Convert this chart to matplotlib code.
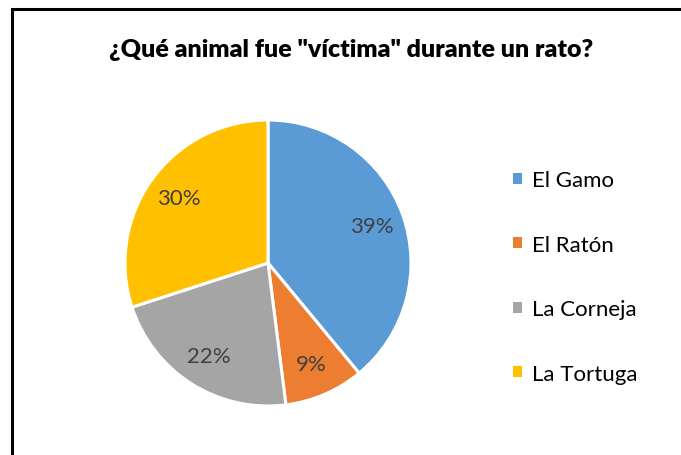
import matplotlib
matplotlib.use("Agg")
import matplotlib.pyplot as plt
from matplotlib.patches import Rectangle, Patch

# --- Data ---
animals = ["El Gamo", "El Ratón", "La Corneja", "La Tortuga"]
shares = [39, 9, 22, 30]
colors = ["#5B9BD5", "#ED7D31", "#A5A5A5", "#FFC000"]
title = '¿Qué animal fue "víctima" durante un rato?'

W, H = 681, 456
DPI = 100
plt.rcParams["font.family"] = ["Lato", "DejaVu Sans"]

fig = plt.figure(figsize=(W / DPI, H / DPI), dpi=DPI)

# frame of the embedded chart (runs off the right and bottom edges)
fig.patches.append(Rectangle((11.5 / W, -0.1), 1.2, 1.1 - 9.5 / H,
                             transform=fig.transFigure, fill=False,
                             edgecolor="black", linewidth=2.2))

fig.text(351 / W, 1 - 50 / H, title, ha="center", va="center",
         fontsize=18, fontweight="heavy", color="black")

# pie: centre (268, 264) px, radius 143 px
cx, cy, r = 268, 264, 143
ax = fig.add_axes([(cx - r) / W, (H - cy - r) / H, 2 * r / W, 2 * r / H])
wedges, texts, autotexts = ax.pie(
    shares, colors=colors, startangle=90, counterclock=False,
    autopct="%1.0f%%", pctdistance=0.77, radius=1,
    wedgeprops=dict(edgecolor="white", linewidth=2.2),
    textprops=dict(color="#404040", fontsize=16),
)
ax.set_xlim(-1, 1)
ax.set_ylim(-1, 1)
ax.axis("off")

handles = [Patch(facecolor=c, edgecolor="none") for c in colors]
fig.legend(handles, animals, loc="center left",
           bbox_to_anchor=(513 / W, 1 - 278 / H), frameon=False,
           borderpad=0, borderaxespad=0,
           fontsize=16, labelspacing=2.0, handlelength=0.4, handleheight=0.4,
           handletextpad=0.45, labelcolor="#000000")

fig.savefig("out.png", dpi=DPI)
